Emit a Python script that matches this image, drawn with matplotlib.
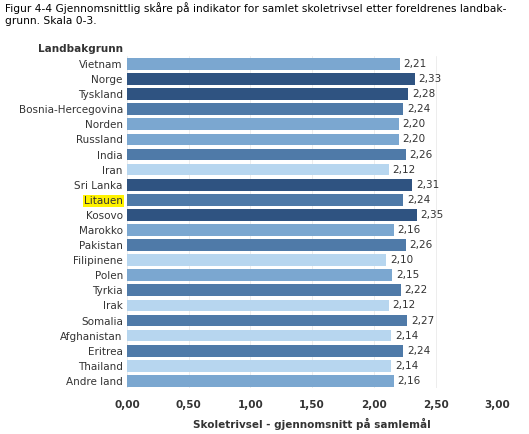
import matplotlib.pyplot as plt

countries = ["Vietnam", "Norge", "Tyskland", "Bosnia-Hercegovina", "Norden", "Russland",
             "India", "Iran", "Sri Lanka", "Litauen", "Kosovo", "Marokko", "Pakistan",
             "Filipinene", "Polen", "Tyrkia", "Irak", "Somalia", "Afghanistan", "Eritrea",
             "Thailand", "Andre land"]
values = [2.21, 2.33, 2.28, 2.24, 2.20, 2.20, 2.26, 2.12, 2.31, 2.24, 2.35, 2.16, 2.26,
          2.10, 2.15, 2.22, 2.12, 2.27, 2.14, 2.24, 2.14, 2.16]
ticks = [0, 0.5, 1.0, 1.5, 2.0, 2.5, 3.0]


def shade(v):
    if v >= 2.28:
        return "#2f5381"
    if v >= 2.22:
        return "#4f7aa8"
    if v >= 2.15:
        return "#7ba7d0"
    return "#b7d6ef"


fig = plt.figure(figsize=(5.29, 4.34), dpi=100)
ax = fig.add_axes([0.24, 0.105, 0.70, 0.765])
y = range(len(countries))
ax.barh(y, values, height=0.78, color=[shade(v) for v in values])
for i, v in zip(y, values):
    ax.text(v + 0.03, i, f"{v:.2f}".replace(".", ","), va="center", fontsize=7.5,
            color="#333333")
ax.set_ylim(len(countries) - 0.5, -0.5)
ax.set_xlim(0, 3.0)
ax.set_yticks(list(y))
ax.set_yticklabels(countries, fontsize=7.5, color="#333333")
ax.get_yticklabels()[countries.index("Litauen")].set_bbox(
    dict(facecolor="#fff200", edgecolor="none", pad=0.5))
ax.set_xticks(ticks)
ax.set_xticklabels([f"{t:.2f}".replace(".", ",") for t in ticks], fontsize=7.5,
                   fontweight="bold", color="#333333")
ax.tick_params(length=0, pad=3)
ax.tick_params(axis="x", pad=8)
ax.grid(axis="x", color="#e6e6e6", linewidth=0.5)
ax.set_axisbelow(True)
for s in ax.spines.values():
    s.set_visible(False)
ax.set_xlabel("Skoletrivsel - gjennomsnitt på samlemål", fontsize=7.5,
              fontweight="bold", color="#333333", labelpad=6)
ax.text(-0.01, -0.65, "Landbakgrunn", transform=ax.get_yaxis_transform(), ha="right",
        va="bottom", fontsize=7.5, fontweight="bold", color="#333333")
fig.text(0.01, 0.995, "Figur 4-4 Gjennomsnittlig skåre på indikator for samlet skoletrivsel etter foreldrenes landbak-\ngrunn. Skala 0-3.",
         fontsize=7.7, va="top", ha="left", linespacing=1.3)
fig.savefig("out.png", dpi=100)
